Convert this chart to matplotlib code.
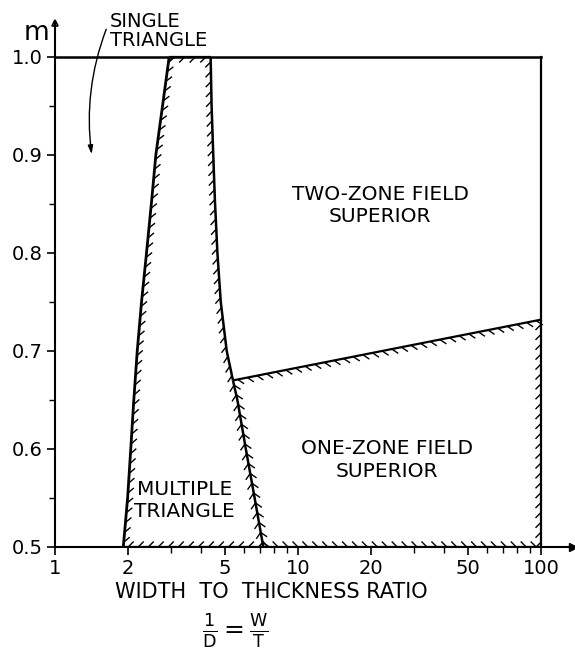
#!/usr/bin/env python3
# coding: utf-8

import numpy as np
import matplotlib
matplotlib.use("Agg")
import matplotlib.pyplot as plt
import matplotlib.patheffects as pe
from matplotlib.ticker import FixedLocator, NullFormatter

# boundary between single and multiple triangle
left_x = [1.91, 1.99, 2.05, 2.11, 2.18, 2.27, 2.38, 2.50, 2.60, 2.77, 2.95]
left_y = [0.50, 0.55, 0.60, 0.65, 0.70, 0.75, 0.80, 0.854, 0.90, 0.95, 1.00]

# boundary between multiple triangle and the field solutions (top to bottom)
right_x = [4.37, 4.41, 4.48, 4.55, 4.66, 4.81, 5.09, 5.40, 5.63, 6.10, 6.63, 7.20]
right_y = [1.00, 0.95, 0.90, 0.854, 0.80, 0.75, 0.70, 0.670, 0.65, 0.60, 0.55, 0.50]

# boundary between one-zone and two-zone field
split_x = [5.40, 100.0]
split_y = [0.670, 0.732]

x_major = [1, 2, 5, 10, 20, 50, 100]
x_minor = [3, 4, 6, 7, 8, 9, 30, 40, 60, 70, 80, 90]
x_labels = ["1", "2", "5", "10", "20", "50", "100"]
y_major = [0.5, 0.6, 0.7, 0.8, 0.9, 1.0]
y_minor = [0.55, 0.65, 0.75, 0.85, 0.95]

x_max = 100.0
y_min, y_max = 0.5, 1.0

plt.rcParams['font.family'] = ['DejaVu Sans']


def ticked(angle, spacing=7.0, length=0.8, lw=1.0):
    return pe.TickedStroke(angle=angle, spacing=spacing, length=length, linewidth=lw)


def hatched_line(ax, x, y, angles, lw=1.6):
    effects = [ticked(a) for a in angles] + [pe.Normal()]
    ax.plot(x, y, "-", color="k", lw=lw, path_effects=effects,
            solid_capstyle="butt", zorder=3)


fig = plt.figure(figsize=(5.75, 6.49), dpi=100)
W, H = 575.0, 649.0
ax = fig.add_axes([55 / W, 1 - 547 / H, (573 - 55) / W, (547 - 23) / H])

ax.set_xscale("log")
ax.set_xlim(1, 10 ** ((573 - 55) / 243.0))
ax.set_ylim(y_min, y_min + (547 - 23) / 980.0)

# frame: top line and right line
ax.plot([1, x_max], [y_max, y_max], "-", color="k", lw=1.8, zorder=2)
ax.plot([x_max, x_max], [split_y[-1], y_max], "-", color="k", lw=1.6, zorder=2)

# left boundary, hatched on the right side (path goes upward)
hatched_line(ax, left_x, left_y, [-45], lw=2.0)

# right boundary, upper part hatched on the left, lower part on both sides
i_split = right_y.index(split_y[0])
hatched_line(ax, right_x[:i_split + 1], right_y[:i_split + 1], [-45], lw=1.8)
hatched_line(ax, right_x[i_split:], right_y[i_split:], [-45, 45], lw=1.8)

# top of the multiple triangle region, hatched below
hatched_line(ax, [left_x[-1], right_x[0]], [y_max, y_max], [-135])

# one-zone / two-zone boundary, hatched below
hatched_line(ax, split_x, split_y, [-45])

# right edge of the one-zone region, hatched on the left
hatched_line(ax, [x_max, x_max], [y_min, split_y[-1]], [135])

# bottom edge, hatched above
hatched_line(ax, [left_x[0], right_x[-1]], [y_min, y_min], [45])
hatched_line(ax, [right_x[-1], x_max], [y_min, y_min], [135])

# axes styling
for side in ["top", "right"]:
    ax.spines[side].set_visible(False)
for side in ["left", "bottom"]:
    ax.spines[side].set_linewidth(1.5)

ax.xaxis.set_major_locator(FixedLocator(x_major))
ax.xaxis.set_minor_locator(FixedLocator(x_minor))
ax.xaxis.set_minor_formatter(NullFormatter())
ax.set_xticklabels(x_labels)
ax.yaxis.set_major_locator(FixedLocator(y_major))
ax.yaxis.set_minor_locator(FixedLocator(y_minor))
ax.set_yticklabels(["%.1f" % v for v in y_major])

ax.tick_params(axis="both", which="major", direction="out", length=6, width=1.2,
               labelsize=14, pad=3)
ax.tick_params(axis="both", which="minor", direction="out", length=4, width=1.0)

# arrow heads on the axes
ax.plot(1, 0, ">", color="k", ms=6, transform=ax.transAxes, clip_on=False)
ax.plot(0, 1, "^", color="k", ms=5, mfc="white", mew=1.2,
        transform=ax.transAxes, clip_on=False)

ax.set_ylabel("m", rotation=0, fontsize=19, va="center", ha="center")
ax.yaxis.set_label_coords(-0.035, 0.98)
ax.set_xlabel("WIDTH  TO  THICKNESS RATIO", fontsize=15)
ax.xaxis.set_label_coords((271 - 55) / 518.0, (547 - 592) / 524.0)
ax.xaxis.label.set_va("center")

# region labels
kw = dict(fontsize=14.5, ha="center", va="center", linespacing=1.25)
ax.text(21.75, 0.8485, "TWO-ZONE FIELD\nSUPERIOR", **kw)
ax.text(23.2, 0.589, "ONE-ZONE FIELD\nSUPERIOR", **kw)
ax.text(3.40, 0.5475, "MULTIPLE\nTRIANGLE", **kw)
ax.text(1.684, 1.0265, "SINGLE\nTRIANGLE", fontsize=14, ha="left", va="center",
        linespacing=0.95, clip_on=False)

ax.annotate("", xy=(1.42, 0.898), xytext=(1.64, 1.031),
            arrowprops=dict(arrowstyle="-|>,head_length=0.5,head_width=0.15",
                            connectionstyle="arc3,rad=0.13", color="k", lw=1.0),
            annotation_clip=False)

fig.text(235 / W, 1 - 631 / H, r"$\mathrm{\frac{1}{D}} = \mathrm{\frac{W}{T}}$",
         fontsize=18, ha="center", va="center")

fig.savefig("out.png", dpi=100)
